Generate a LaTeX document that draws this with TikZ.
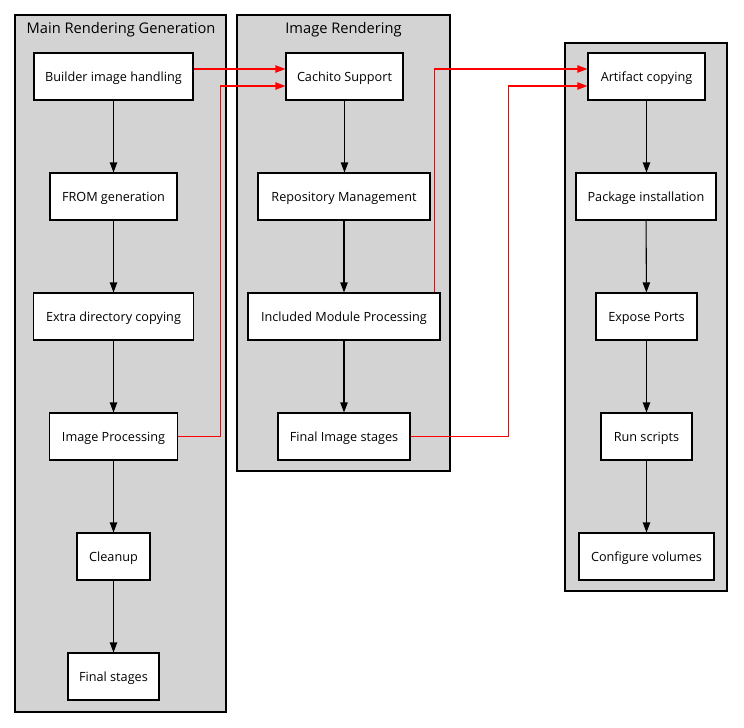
\documentclass[tikz,border=0pt]{standalone}
\usepackage{fontspec}
\setmainfont{Open Sans}
\usetikzlibrary{arrows.meta,calc}
\definecolor{clgray}{HTML}{D3D3D3}
\begin{document}
\begin{tikzpicture}[x=0.75pt,y=-0.75pt,
  cluster/.style={draw=black,fill=clgray,line width=0.8pt},
  ctitle/.style={font=\fontsize{11}{13}\selectfont,anchor=center,inner sep=0pt},
  box/.style={draw=black,fill=white,line width=0.8pt,minimum height=35.25pt,inner sep=0pt,text height=9pt,text depth=1.5pt,font=\fontsize{9.5}{11}\selectfont},
  flow/.style={draw=black,line width=0.8pt,-{Triangle[length=7.5pt,width=5.5pt]}},
  link/.style={draw=red,line width=0.8pt,-{Triangle[length=7.5pt,width=5.5pt]}}]
\useasboundingbox (0,0) rectangle (744,728);
\fill[white] (0,0) rectangle (744,728);
% clusters
\path[cluster] (15,15) rectangle (226,712);
\path[cluster] (237,15) rectangle (450,471);
\path[cluster] (565,43) rectangle (727,591);
\node[ctitle] (t1) at (121,29.5) {Main Rendering Generation};
\node[ctitle] (t2) at (343.5,29.5) {Image Rendering};
% main
\node[box,minimum width=119.25pt] (builder) at (113.5,76.5) {Builder image handling};
\node[box,minimum width=95.25pt] (from) at (113.5,196.5) {FROM generation};
\node[box,minimum width=120pt] (extra) at (113.5,316.5) {Extra directory copying};
\node[box,minimum width=96pt] (imgproc) at (113.5,436.5) {Image Processing};
\node[box,minimum width=54.75pt] (cleanup) at (113.5,556.5) {Cleanup};
\node[box,minimum width=68.25pt] (finalst) at (113.5,676.5) {Final stages};
% image rendering
\node[box,minimum width=87.75pt] (cachito) at (344.5,76.5) {Cachito Support};
\node[box,minimum width=129pt] (repo) at (344,196.5) {Repository Management};
\node[box,minimum width=144pt] (incmod) at (344,316.5) {Included Module Processing};
\node[box,minimum width=99pt] (finalimg) at (344,436.5) {Final Image stages};
% third
\node[box,minimum width=87.75pt] (artifact) at (646.5,76.5) {Artifact copying};
\node[box,minimum width=105pt] (pkg) at (646,196.5) {Package installation};
\node[box,minimum width=75.75pt] (expose) at (646.5,316.5) {Expose Ports};
\node[box,minimum width=68.25pt] (runs) at (646.5,436.5) {Run scripts};
\node[box,minimum width=101.25pt] (vols) at (646.5,556.5) {Configure volumes};
% flows
\draw[flow] (builder) -- (from);
\draw[flow] (from) -- (extra);
\draw[flow] (extra) -- (imgproc);
\draw[flow] (imgproc) -- (cleanup);
\draw[flow] (cleanup) -- (finalst);
\draw[flow] (cachito) -- (cachito |- repo.north);
\draw[flow] (repo) -- (incmod);
\draw[flow] (incmod) -- (finalimg);
\draw[flow] (artifact) -- (artifact |- pkg.north);
\draw[flow] (pkg) -- (expose);
\draw[flow] (expose) -- (runs);
\draw[flow] (runs) -- (vols);
% cross links
\draw[link] (builder.east |- 0,69) -- (cachito.west |- 0,69);
\draw[link] (imgproc.east) -- ++(42,0) |- (cachito.west |- 0,86);
\draw[link] ($(incmod.north east)+(-6,0)$) |- (artifact.west |- 0,69);
\draw[link] (finalimg.east) -- ++(98,0) |- (artifact.west |- 0,86);
\end{tikzpicture}
\end{document}
